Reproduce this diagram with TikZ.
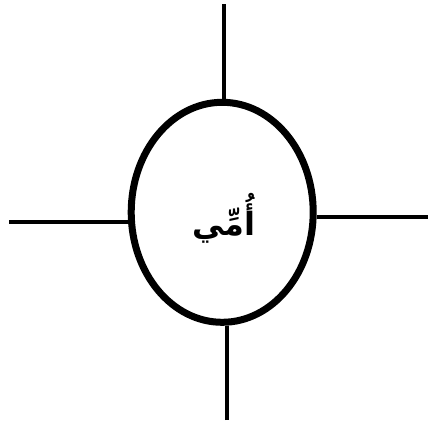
\documentclass[tikz,border=0pt]{standalone}
\usepackage{fontspec}
\usetikzlibrary{shapes.geometric}
\TeXXeTstate=1
\newfontfamily\arabicfont[Script=Arabic]{DejaVu Sans}
\tikzset{
  spoke/.style={line width=4pt},
  bubble/.style={ellipse, draw, line width=7pt, minimum width=182pt, minimum height=220pt, inner sep=0pt}
}
\begin{document}
\begin{tikzpicture}[x=1pt,y=-1pt]
\useasboundingbox (0,0) rectangle (428,423);
\node[bubble] (e) at (222.2,212.3) {};
\node (t) at (224,218) {\arabicfont\bfseries\fontsize{32}{38}\selectfont\beginR أُمِّي\endR};
\coordinate (top) at (223.7,4);
\coordinate (bot) at (227,420);
\coordinate (lft) at (9,221.7);
\coordinate (rgt) at (428,216.7);
\draw[spoke] (top) -- (top |- e.north);
\draw[spoke] (bot) -- (bot |- e.south);
\draw[spoke] (lft) -- (lft -| e.west);
\draw[spoke] (rgt) -- (rgt -| e.east);
\end{tikzpicture}
\end{document}
